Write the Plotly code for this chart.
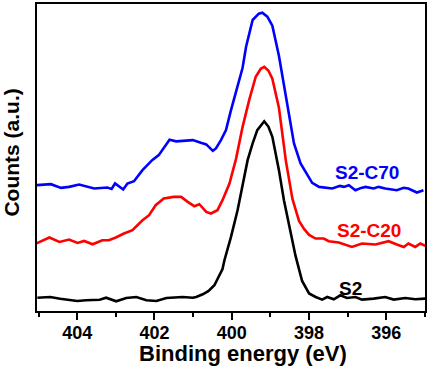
import plotly.graph_objects as go

# Binding energy (eV) and counts (a.u., offset curves)
be_c70 = [405.05, 404.68, 404.42, 404.21, 403.95, 403.56, 403.22, 403.11, 403.02, 402.81,
          402.70, 402.53, 402.31, 402.06, 401.89, 401.61, 401.44, 401.20, 401.01, 400.80,
          400.66, 400.49, 400.41, 400.28, 400.15, 400.02, 399.85, 399.72, 399.63, 399.46,
          399.30, 399.21, 399.08, 398.95, 398.78, 398.65, 398.54, 398.39, 398.22, 398.09,
          397.92, 397.74, 397.55, 397.40, 397.20, 397.10, 396.97, 396.80, 396.65, 396.54,
          396.33, 396.20, 396.03, 395.85, 395.73, 395.55, 395.43, 395.21, 395.04]
counts_c70 = [125.7, 126.7, 123.0, 124.0, 126.4, 122.4, 123.4, 122.0, 127.4, 121.4,
              127.4, 129.7, 140.7, 150.7, 155.7, 171.0, 169.5, 170.5, 170.7, 168.0,
              166.4, 160.0, 162.4, 170.7, 180.7, 200.7, 224.0, 243.0, 264.0, 290.7,
              297.0, 298.0, 294.0, 285.0, 255.0, 225.0, 200.0, 167.4, 147.4, 139.0,
              128.0, 124.0, 123.0, 122.4, 125.0, 124.0, 125.7, 120.7, 123.0, 124.0,
              122.4, 124.0, 122.4, 121.0, 120.7, 123.0, 122.4, 118.4, 120.7]

be_c20 = [405.06, 404.89, 404.72, 404.46, 404.21, 403.99, 403.82, 403.60, 403.35, 403.18,
          403.00, 402.79, 402.57, 402.31, 402.14, 401.97, 401.76, 401.50, 401.31, 401.14,
          400.97, 400.84, 400.66, 400.54, 400.37, 400.24, 400.06, 399.89, 399.72, 399.55,
          399.38, 399.25, 399.16, 399.05, 398.95, 398.78, 398.60, 398.43, 398.26, 398.13,
          398.00, 397.83, 397.62, 397.49, 397.23, 396.89, 396.63, 396.28, 395.94, 395.73,
          395.55, 395.43, 395.25, 395.12, 394.99]
counts_c20 = [67.4, 70.0, 73.4, 69.0, 71.4, 68.0, 70.0, 66.7, 70.7, 70.7,
              73.4, 77.4, 80.7, 90.7, 95.7, 105.7, 112.4, 114.0, 114.0, 109.0,
              104.7, 106.7, 99.0, 97.4, 100.7, 110.7, 127.4, 152.0, 184.0, 210.7,
              234.0, 242.0, 244.0, 240.0, 232.0, 203.0, 150.0, 112.0, 90.0, 82.0,
              76.0, 72.4, 72.4, 69.7, 68.4, 64.0, 67.4, 66.4, 69.7, 66.4,
              64.0, 67.4, 64.0, 67.4, 65.0]

be_s2 = [405.03, 404.70, 404.44, 404.18, 404.00, 403.77, 403.42, 403.25, 402.99, 402.73,
         402.47, 402.21, 401.95, 401.69, 401.44, 401.27, 401.01, 400.92, 400.75, 400.60,
         400.45, 400.37, 400.24, 400.19, 400.02, 399.85, 399.72, 399.59, 399.46, 399.34,
         399.16, 399.05, 398.95, 398.78, 398.65, 398.52, 398.35, 398.18, 398.00, 397.83,
         397.66, 397.53, 397.36, 397.19, 397.02, 396.80, 396.63, 396.33, 396.03, 395.81,
         395.51, 395.25, 394.99]
counts_s2 = [13.3, 14.0, 12.3, 10.7, 10.0, 10.7, 11.3, 13.3, 9.7, 13.0,
             14.0, 10.7, 10.0, 13.0, 13.3, 14.0, 13.3, 14.0, 16.7, 20.0,
             25.7, 32.4, 42.0, 50.7, 74.0, 100.7, 127.4, 150.7, 167.4, 180.7,
             189.5, 184.0, 174.0, 140.7, 110.7, 85.0, 55.0, 30.0, 17.5, 14.0,
             11.4, 14.0, 11.7, 15.7, 13.0, 14.0, 11.4, 12.4, 14.0, 11.4,
             13.0, 11.7, 12.4]

series_names = ["S2-C70", "S2-C20", "S2"]
series_colors = ["#0000ff", "#ff0000", "#000000"]
tick_values = [404, 402, 400, 398, 396]
tick_labels = ["404", "402", "400", "398", "396"]
minor_tick_values = [405, 403, 401, 399, 397, 395]

FONT = "Liberation Sans, Arial, sans-serif"

fig = go.Figure()
for xs, ys, name, col in zip([be_c70, be_c20, be_s2],
                             [counts_c70, counts_c20, counts_s2],
                             series_names, series_colors):
    fig.add_trace(go.Scatter(x=xs, y=ys, mode="lines", name=name,
                             line=dict(color=col, width=2.6), showlegend=False))

# curve labels
label_pos = [(396.5, 138.7), (396.46, 80.7), (396.92, 22.7)]
for (lx, ly), name, col in zip(label_pos, series_names, series_colors):
    fig.add_annotation(x=lx, y=ly, xref="x", yref="y", text=name, showarrow=False,
                       font=dict(family=FONT, size=19, color=col, weight="bold"),
                       xanchor="center", yanchor="middle")

fig.add_annotation(x=0.531, y=-0.14, xref="paper", yref="paper",
                   text="Binding energy (eV)", showarrow=False,
                   font=dict(family=FONT, size=22, color="black", weight="bold"),
                   xanchor="center", yanchor="middle")
fig.add_annotation(x=-0.0645, y=0.516, xref="paper", yref="paper",
                   text="Counts (a.u.)", showarrow=False, textangle=-90,
                   font=dict(family=FONT, size=21, color="black", weight="bold"),
                   xanchor="center", yanchor="middle")

fig.update_xaxes(range=[405.04, 395.0], tickmode="array", tickvals=tick_values,
                 ticktext=tick_labels, ticks="outside", ticklen=7, tickwidth=2,
                 tickcolor="black", ticklabelstandoff=-3,
                 minor=dict(tickmode="array", tickvals=minor_tick_values,
                            ticks="outside", ticklen=4,
                            tickwidth=2, tickcolor="black", showgrid=False),
                 showline=True, linecolor="black", linewidth=2, mirror=True,
                 showgrid=False, zeroline=False,
                 tickfont=dict(family=FONT, size=18, color="black", weight="bold"))
fig.update_yaxes(range=[0, 306.7], showticklabels=False, ticks="",
                 showline=True, linecolor="black", linewidth=2, mirror=True,
                 showgrid=False, zeroline=False)

fig.update_layout(width=429, height=368,
                  margin=dict(l=37, r=4, t=4, b=57, autoexpand=False),
                  plot_bgcolor="white", paper_bgcolor="white",
                  font=dict(family=FONT))

fig.write_html("out.html", config={"displayModeBar": False},
               post_script="document.body.style.margin='0';document.body.style.padding='0';")
